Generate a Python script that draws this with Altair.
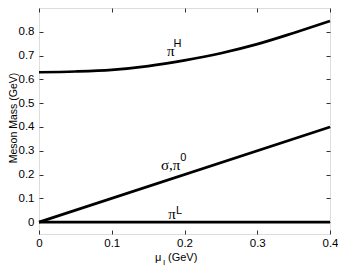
import altair as alt
import pandas as pd

# ---- data ----
mu_H = [0.0, 0.05, 0.1, 0.15, 0.2, 0.25, 0.3, 0.35, 0.4]
mass_piH = [0.630, 0.633, 0.640, 0.656, 0.680, 0.710, 0.748, 0.795, 0.845]
mu_lin = [0.0, 0.4]
mass_sigma = [0.0, 0.4]
mass_piL = [0.0, 0.0]

x_ticks = [0, 0.1, 0.2, 0.3, 0.4]
y_ticks = [0, 0.1, 0.2, 0.3, 0.4, 0.5, 0.6, 0.7, 0.8]

rows = []
for m, v in zip(mu_H, mass_piH):
    rows.append({"mu": m, "mass": v, "series": "piH"})
for m, v in zip(mu_lin, mass_sigma):
    rows.append({"mu": m, "mass": v, "series": "sigma"})
for m, v in zip(mu_lin, mass_piL):
    rows.append({"mu": m, "mass": v, "series": "piL"})
df = pd.DataFrame(rows)

# curve labels: main symbols (serif) and superscripts (sans)
main_text = ["π", "σ,π", "π"]
main_mu = [0.181, 0.181, 0.183]
main_mass = [0.70, 0.217, 0.014]
sup_text = ["H", "0", "L"]
sup_mu = [0.1905, 0.1985, 0.1925]
sup_mass = [0.735, 0.255, 0.036]
main_df = pd.DataFrame({"t": main_text, "mu": main_mu, "mass": main_mass})
sup_df = pd.DataFrame({"t": sup_text, "mu": sup_mu, "mass": sup_mass})

W, H = 291, 226
FONT = "Liberation Sans"
xs = alt.Scale(domain=[0, 0.4], nice=False, zero=False)
ys = alt.Scale(domain=[-0.05, 0.9], nice=False, zero=False)

ax_common = dict(tickSize=4, offset=-4, domain=False, grid=False, title=None,
                 tickColor="#333", labelColor="black", labelFont=FONT,
                 labelFontSize=11.5, format=".1~f", labelFlush=False, labelOverlap=False)

lines = alt.Chart(df).mark_line(color="black", strokeWidth=2.7, interpolate="monotone").encode(
    x=alt.X("mu:Q", scale=xs, axis=alt.Axis(orient="bottom", values=x_ticks, labelPadding=3, **ax_common)),
    y=alt.Y("mass:Q", scale=ys, axis=alt.Axis(orient="left", values=y_ticks, labelPadding=5, **ax_common)),
    detail="series:N",
)

mirror_common = dict(tickSize=4, offset=-4, domain=False, grid=False, title=None,
                     labels=False, tickColor="#333")
mirror = alt.Chart(df).mark_line(opacity=0).encode(
    x=alt.X("mu:Q", scale=xs, axis=alt.Axis(orient="top", values=x_ticks, **mirror_common)),
    y=alt.Y("mass:Q", scale=ys, axis=alt.Axis(orient="right", values=y_ticks, **mirror_common)),
    detail="series:N",
)

main_labels = alt.Chart(main_df).mark_text(color="black", align="center", baseline="alphabetic",
                                           font="Liberation Serif", fontSize=15).encode(
    x=alt.X("mu:Q", scale=xs, axis=None), y=alt.Y("mass:Q", scale=ys, axis=None), text="t:N")
sup_labels = alt.Chart(sup_df).mark_text(color="black", align="center", baseline="alphabetic",
                                         font=FONT, fontSize=11).encode(
    x=alt.X("mu:Q", scale=xs, axis=None), y=alt.Y("mass:Q", scale=ys, axis=None), text="t:N")

one = pd.DataFrame({"a": [0]})
ytitle = alt.Chart(one).mark_text(text="Meson Mass (GeV)", angle=270, font=FONT, fontSize=10.5,
                                  color="black", align="center", baseline="middle").encode(
    x=alt.value(-25), y=alt.value(110))
xt_mu = alt.Chart(one).mark_text(text="μ", font=FONT, fontSize=11, color="black",
                                 align="left", baseline="alphabetic").encode(
    x=alt.value(116), y=alt.value(253))
xt_sub = alt.Chart(one).mark_text(text="I", font=FONT, fontSize=8, color="black",
                                  align="left", baseline="alphabetic").encode(
    x=alt.value(124), y=alt.value(257))
xt_gev = alt.Chart(one).mark_text(text="(GeV)", font=FONT, fontSize=11, color="black",
                                  align="left", baseline="alphabetic").encode(
    x=alt.value(129), y=alt.value(253))

chart = alt.layer(lines, mirror, main_labels, sup_labels, ytitle, xt_mu, xt_sub, xt_gev).resolve_axis(
    x="independent", y="independent"
).properties(
    width=W, height=H,
    autosize=alt.AutoSizeParams(type="none"),
    padding={"left": 31, "top": 0, "right": 8, "bottom": 33},
).configure_view(stroke="#444", strokeWidth=1).configure(background="white")

chart.save("out.html", embed_options={"renderer": "svg", "actions": False})
